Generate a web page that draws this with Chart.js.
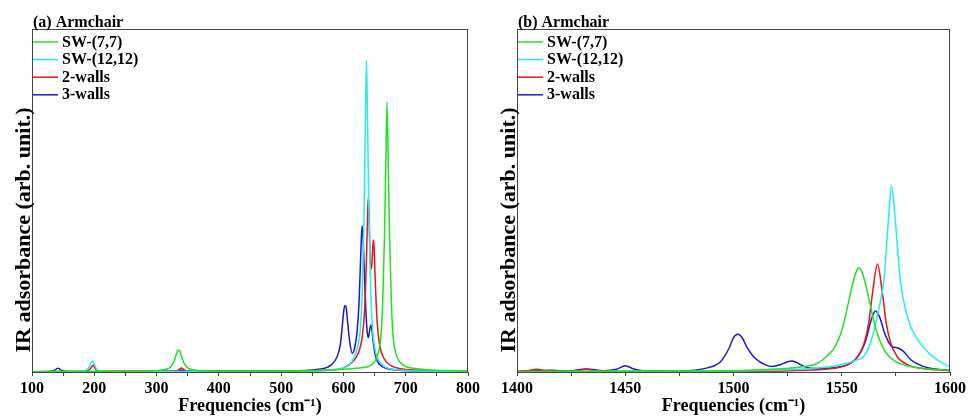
<!DOCTYPE html>
<html>
<head>
<meta charset="utf-8">
<script src="https://cdn.jsdelivr.net/npm/chart.js@4.4.1/dist/chart.umd.min.js"></script>
<style>
  html, body { margin: 0; padding: 0; background: #ffffff; }
  #wrap { position: relative; width: 969px; height: 416px; }
  #boxA { position: absolute; left: 0; top: 0; width: 484px; height: 416px; }
  #boxB { position: absolute; left: 484px; top: 0; width: 485px; height: 416px; }
</style>
</head>
<body>
<div id="wrap">
  <div id="boxA"><canvas id="chartA"></canvas></div>
  <div id="boxB"><canvas id="chartB"></canvas></div>
</div>
<script>
// ---------- Panel titles, series names, tick labels ----------
const panelTitles = ["(a) Armchair", "(b) Armchair"];
const seriesNames = ["SW-(7,7)", "SW-(12,12)", "2-walls", "3-walls"];
const xTitle = "Frequencies (cm\u207B\u00B9)";
const yTitle = "IR adsorbance (arb. unit.)";
const ticksA = [100, 200, 300, 400, 500, 600, 700, 800];
const ticksB = [1400, 1450, 1500, 1550, 1600];

// ---------- Panel (a): 100-800 cm-1 ----------
const a77x = [100, 250, 300, 315, 322, 328, 331, 334, 336, 338, 341, 345, 350, 360, 380, 450, 550, 600, 625, 640, 648, 655, 660, 663, 666, 668, 670, 672, 674, 677, 680, 685, 692, 700, 715, 740, 800];
const a77y = [0.001, 0.002, 0.004, 0.008, 0.014, 0.03, 0.048, 0.062, 0.064, 0.058, 0.04, 0.022, 0.012, 0.006, 0.003, 0.002, 0.004, 0.008, 0.012, 0.016, 0.026, 0.05, 0.1, 0.2, 0.4, 0.6, 0.787, 0.6, 0.4, 0.2, 0.1, 0.05, 0.026, 0.016, 0.01, 0.006, 0.003];

const a1212x = [100, 180, 190, 194, 197, 200, 204, 212, 230, 500, 580, 600, 610, 618, 623, 627, 630, 633, 635, 637, 639, 641, 644, 647, 652, 660, 670, 690, 720, 800];
const a1212y = [0.001, 0.002, 0.01, 0.024, 0.032, 0.022, 0.008, 0.003, 0.001, 0.002, 0.006, 0.012, 0.022, 0.045, 0.075, 0.12, 0.22, 0.45, 0.7, 0.91, 0.7, 0.45, 0.22, 0.12, 0.055, 0.025, 0.012, 0.006, 0.003, 0.001];

const a2wx = [100, 185, 193, 196, 198, 200, 203, 210, 330, 336, 340, 344, 350, 500, 580, 600, 615, 625, 630, 634, 637, 639, 640, 641, 643, 645, 647, 648, 649, 651, 654, 658, 665, 675, 690, 720, 800];
const a2wy = [0.001, 0.002, 0.008, 0.016, 0.02, 0.015, 0.006, 0.002, 0.002, 0.007, 0.012, 0.007, 0.002, 0.002, 0.006, 0.012, 0.03, 0.06, 0.1, 0.18, 0.33, 0.47, 0.51, 0.47, 0.33, 0.3, 0.36, 0.385, 0.37, 0.27, 0.15, 0.08, 0.04, 0.02, 0.01, 0.005, 0.002];

const a3wx = [100, 130, 137, 140, 142, 144, 147, 155, 180, 330, 337, 340, 343, 350, 390, 400, 410, 500, 560, 580, 590, 595, 598, 600, 602, 604, 607, 610, 614, 618, 622, 625, 627, 629, 630, 631, 633, 636, 638, 640, 642, 644, 646, 648, 651, 655, 662, 670, 690, 720, 800];
const a3wy = [0.001, 0.002, 0.006, 0.01, 0.011, 0.009, 0.005, 0.002, 0.001, 0.002, 0.005, 0.006, 0.004, 0.002, 0.002, 0.004, 0.002, 0.003, 0.008, 0.02, 0.045, 0.08, 0.13, 0.17, 0.193, 0.19, 0.14, 0.09, 0.055, 0.07, 0.12, 0.2, 0.3, 0.4, 0.425, 0.41, 0.32, 0.18, 0.12, 0.1, 0.12, 0.137, 0.12, 0.085, 0.05, 0.03, 0.016, 0.01, 0.005, 0.003, 0.001];

// ---------- Panel (b): 1400-1600 cm-1 ----------
const b77x = [1400, 1450, 1500, 1520, 1530, 1539, 1543, 1547, 1550, 1553, 1555, 1557, 1558, 1559, 1561, 1563, 1566, 1570, 1575, 1580, 1590, 1600];
const b77y = [0.001, 0.002, 0.004, 0.009, 0.014, 0.026, 0.045, 0.075, 0.12, 0.2, 0.256, 0.297, 0.303, 0.297, 0.256, 0.2, 0.12, 0.06, 0.03, 0.018, 0.009, 0.006];

const b1212x = [1400, 1450, 1500, 1530, 1545, 1552, 1557, 1560.5, 1564, 1567, 1569.5, 1571.5, 1573, 1574.5, 1577, 1579.5, 1582, 1585, 1588, 1593, 1600];
const b1212y = [0.001, 0.002, 0.003, 0.008, 0.016, 0.025, 0.035, 0.048, 0.1, 0.18, 0.27, 0.44, 0.542, 0.46, 0.27, 0.18, 0.13, 0.095, 0.07, 0.04, 0.014];

const b2wx = [1400, 1405, 1409, 1413, 1420, 1428, 1432, 1436, 1445, 1500, 1533.5, 1546.5, 1552.5, 1557.5, 1560.5, 1562.5, 1564.5, 1566.5, 1568.5, 1570.5, 1572.5, 1575.5, 1580.5, 1586.5, 1600];
const b2wy = [0.002, 0.004, 0.008, 0.004, 0.002, 0.004, 0.008, 0.004, 0.002, 0.002, 0.005, 0.011, 0.021, 0.046, 0.087, 0.145, 0.244, 0.315, 0.244, 0.145, 0.087, 0.046, 0.021, 0.011, 0.004];

const b3wx = [1400, 1408, 1416, 1424, 1432, 1440, 1446, 1450, 1454, 1460, 1475, 1488, 1494, 1498, 1500, 1502, 1504, 1506, 1510, 1515, 1518, 1522, 1525, 1527, 1529, 1533, 1540, 1548, 1554, 1558, 1561, 1563.5, 1565.6, 1567.5, 1570, 1573, 1576, 1578.5, 1582, 1587, 1593, 1600];
const b3wy = [0.001, 0.003, 0.005, 0.003, 0.009, 0.004, 0.008, 0.018, 0.009, 0.003, 0.003, 0.012, 0.03, 0.07, 0.1, 0.11, 0.1, 0.075, 0.04, 0.02, 0.016, 0.022, 0.03, 0.032, 0.028, 0.015, 0.01, 0.014, 0.025, 0.05, 0.09, 0.15, 0.178, 0.16, 0.11, 0.075, 0.07, 0.06, 0.035, 0.018, 0.009, 0.004];

const seriesColors = ["#22e022", "#22eeee", "#e8141c", "#1a1ac8"];

function pts(xs, ys) { return xs.map((x, i) => ({ x: x, y: ys[i] })); }

const FONT = "'Liberation Serif', 'Times New Roman', serif";

const decorPlugin = {
  id: 'decor',
  afterDraw(chart, args, opts) {
    const ctx = chart.ctx;
    const a = chart.chartArea;
    ctx.save();
    // frame
    ctx.strokeStyle = '#444444';
    ctx.lineWidth = 1;
    ctx.strokeRect(a.left + 0.5, a.top + 0.5, a.right - a.left - 1, a.bottom - a.top);
    // panel title
    ctx.fillStyle = '#000000';
    ctx.font = 'bold 16px ' + FONT;
    ctx.textBaseline = 'alphabetic';
    ctx.textAlign = 'left';
    ctx.fillText(opts.title, a.left + 1, a.top - 2);
    // legend
    chart.data.datasets.forEach((ds, i) => {
      const y = a.top + 13 + i * 17.6;
      ctx.strokeStyle = ds.borderColor;
      ctx.lineWidth = 1.5;
      ctx.beginPath();
      ctx.moveTo(a.left + 1, y);
      ctx.lineTo(a.left + 26, y);
      ctx.stroke();
      ctx.fillStyle = '#000000';
      ctx.textBaseline = 'middle';
      ctx.fillText(ds.label, a.left + 30, y + 0.5);
    });
    // y-axis title (rotated)
    ctx.save();
    ctx.translate(a.left - 2, a.top + 201);
    ctx.rotate(-Math.PI / 2);
    ctx.font = 'bold 22px ' + FONT;
    ctx.textAlign = 'center';
    ctx.textBaseline = 'alphabetic';
    ctx.fillStyle = '#000000';
    ctx.fillText(opts.ytitle, 0, 0);
    ctx.restore();
    ctx.restore();
  }
};

function makeChart(id, title, series, xmin, xmax, step, labelEvery, yAxisW) {
  const datasets = series.map((s, i) => ({
    label: seriesNames[i],
    data: pts(s[0], s[1]),
    borderColor: seriesColors[i],
    backgroundColor: seriesColors[i],
    borderWidth: 1.5,
    pointRadius: 0,
    fill: false,
    cubicInterpolationMode: 'monotone'
  }));
  return new Chart(document.getElementById(id), {
    type: 'line',
    data: { datasets: datasets },
    options: {
      responsive: true,
      maintainAspectRatio: false,
      animation: false,
      layout: { padding: { top: 29, right: 16, bottom: 0, left: 0 } },
      plugins: {
        legend: { display: false },
        tooltip: { enabled: false },
        decor: { title: title, ytitle: yTitle }
      },
      scales: {
        x: {
          type: 'linear',
          min: xmin, max: xmax,
          border: { display: true, color: '#444444', width: 1 },
          grid: { display: true, drawOnChartArea: false, drawTicks: true, tickLength: 4, color: '#444444' },
          ticks: {
            stepSize: step,
            autoSkip: false,
            maxRotation: 0,
            padding: 3,
            color: '#000000',
            font: { family: FONT, size: 16, weight: 'bold' },
            callback: (v) => (v % labelEvery === 0 ? String(v) : '')
          },
          title: {
            display: true,
            text: xTitle,
            color: '#000000',
            font: { family: FONT, size: 18, weight: 'bold', lineHeight: 1.1 },
            padding: { top: 0, bottom: 0 }
          },
          afterFit: (scale) => { scale.height = 44; }
        },
        y: {
          min: 0, max: 1,
          border: { display: true, color: '#444444', width: 1 },
          grid: { display: false },
          ticks: { display: false },
          title: { display: false },
          afterFit: (scale) => { scale.width = yAxisW; }
        }
      }
    },
    plugins: [decorPlugin]
  });
}

makeChart('chartA', panelTitles[0],
  [[a77x, a77y], [a1212x, a1212y], [a2wx, a2wy], [a3wx, a3wy]],
  ticksA[0], ticksA[ticksA.length - 1], 50, 100, 32);
makeChart('chartB', panelTitles[1],
  [[b77x, b77y], [b1212x, b1212y], [b2wx, b2wy], [b3wx, b3wy]],
  ticksB[0], ticksB[ticksB.length - 1], 25, 50, 33);
</script>
</body>
</html>
